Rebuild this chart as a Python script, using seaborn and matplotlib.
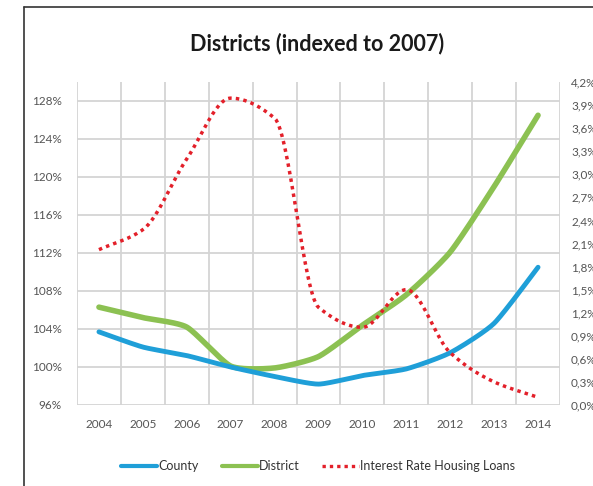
import numpy as np
import pandas as pd
import matplotlib
matplotlib.use("Agg")
import matplotlib.pyplot as plt
import seaborn as sns
from matplotlib.lines import Line2D
from matplotlib.ticker import FuncFormatter

years = ["2004", "2005", "2006", "2007", "2008", "2009", "2010", "2011", "2012", "2013", "2014"]
county = [103.7, 102.1, 101.2, 100.0, 99.0, 98.2, 99.1, 99.8, 101.5, 104.6, 110.5]
district = [106.3, 105.2, 104.2, 100.1, 99.9, 101.1, 104.4, 107.6, 112.1, 119.0, 126.5]
interest = [2.02, 2.28, 3.2, 3.99, 3.73, 1.27, 1.01, 1.50, 0.68, 0.30, 0.10]
left_ticks = [96, 100, 104, 108, 112, 116, 120, 124, 128]
right_ticks = [0.0, 0.3, 0.6, 0.9, 1.2, 1.5, 1.8, 2.1, 2.4, 2.7, 3.0, 3.3, 3.6, 3.9, 4.2]

sns.set_theme(style="white")
plt.rcParams['font.family'] = ['Lato', 'DejaVu Sans']


def smooth(xs, ys, k=0.13, n=30):
    """Bezier smoothing between points (similar to Excel's smoothed line)."""
    xs = np.asarray(xs, float)
    ys = np.asarray(ys, float)
    P = np.column_stack([xs, ys])
    P = np.vstack([P[0], P, P[-1]])
    out = []
    for i in range(1, len(P) - 2):
        p0, p1, p2, p3 = P[i - 1], P[i], P[i + 1], P[i + 2]
        c1 = p1 + (p2 - p0) * k
        c2 = p2 - (p3 - p1) * k
        t = np.linspace(0, 1, n, endpoint=(i == len(P) - 3))[:, None]
        seg = ((1 - t) ** 3) * p1 + 3 * ((1 - t) ** 2) * t * c1 + 3 * (1 - t) * t ** 2 * c2 + t ** 3 * p2
        out.append(seg)
    out = np.vstack(out)
    return out[:, 0], out[:, 1]


def pchip(xs, ys, n=30):
    """Monotone cubic (Fritsch-Carlson) smoothing without overshoot."""
    xs = np.asarray(xs, float)
    ys = np.asarray(ys, float)
    h = np.diff(xs)
    d = np.diff(ys) / h
    m = np.zeros_like(ys)
    for i in range(1, len(ys) - 1):
        if d[i - 1] * d[i] > 0:
            m[i] = 2.0 / (1.0 / d[i - 1] + 1.0 / d[i])
    m[0], m[-1] = d[0], d[-1]
    X, Y = [], []
    for i in range(len(xs) - 1):
        t = np.linspace(0, 1, n, endpoint=(i == len(xs) - 2))
        h00 = 2 * t ** 3 - 3 * t ** 2 + 1
        h10 = t ** 3 - 2 * t ** 2 + t
        h01 = -2 * t ** 3 + 3 * t ** 2
        h11 = t ** 3 - t ** 2
        X.append(xs[i] + t * h[i])
        Y.append(h00 * ys[i] + h10 * h[i] * m[i] + h01 * ys[i + 1] + h11 * h[i] * m[i + 1])
    return np.concatenate(X), np.concatenate(Y)


x = np.arange(len(years))
W, H = 593, 486
fig = plt.figure(figsize=(W / 100, H / 100), dpi=100)
ax = fig.add_axes([77 / W, 1 - 405 / H, (560 - 77) / W, (405 - 82) / H])
ax2 = ax.twinx()

grid_c = "#d4d4d4"
for b in np.arange(-0.5, len(years), 1.0):
    ax.axvline(b, color=grid_c, lw=1.3, zorder=0)
for t in left_ticks:
    ax.axhline(t, color=grid_c, lw=1.3, zorder=0)

cx, cy = smooth(x, county, k=0.1)
dx, dy = smooth(x, district, k=0.1)
ix, iy = pchip(x, interest)

sns.lineplot(x=cx, y=cy, ax=ax, color="#1f9fd8", lw=3.5, sort=False, estimator=None, zorder=3)
sns.lineplot(x=dx, y=dy, ax=ax, color="#8cc152", lw=4.0, sort=False, estimator=None, zorder=2)
sns.lineplot(x=ix, y=iy, ax=ax2, color="#e3202a", lw=2.5, sort=False, estimator=None,
             linestyle=(0, (1, 1.2)), zorder=4)

ax.set_xlim(-0.5, len(years) - 0.5)
ax.set_ylim(96, 130)
ax2.set_ylim(0, 4.2)
ax.set_xticks(x)
ax.set_xticklabels(years)
ax.set_yticks(left_ticks)
ax.yaxis.set_major_formatter(FuncFormatter(lambda v, p: f"{v:.0f}%"))
ax2.set_yticks(right_ticks)
ax2.yaxis.set_major_formatter(FuncFormatter(lambda v, p: f"{v:.1f}%".replace(".", ",")))

tc = "#555555"
ax.tick_params(axis="x", length=0, pad=10, labelsize=8.5, labelcolor=tc)
ax.tick_params(axis="y", length=0, pad=11, labelsize=8.5, labelcolor=tc)
ax2.tick_params(axis="y", length=0, pad=8, labelsize=8.5, labelcolor=tc)
for a in (ax, ax2):
    for s in a.spines.values():
        s.set_visible(False)
    a.set_xlabel("")
    a.set_ylabel("")
ax.set_facecolor("none")
ax2.set_facecolor("none")

fig.text(317 / W, 1 - 44 / H, "Districts (indexed to 2007)", ha="center", va="center",
         fontsize=15.5, fontweight="bold", color="#1a1a1a")

handles = [
    Line2D([], [], color="#1f9fd8", lw=3.0),
    Line2D([], [], color="#8cc152", lw=3.0),
    Line2D([], [], color="#e3202a", lw=2.4, linestyle=(0, (1, 1.2))),
]
fig.legend(handles, ["County", "District", "Interest Rate Housing Loans"],
           loc="center", bbox_to_anchor=(318 / W, 1 - 466 / H), ncol=3, frameon=False,
           fontsize=9, handlelength=2.9, handletextpad=0.1, columnspacing=1.8,
           labelcolor="#333333")

fig.add_artist(Line2D([24 / W, 24 / W], [0, 1 - 7 / H], color="#333333", lw=1.2))
fig.add_artist(Line2D([24 / W, 1], [1 - 7 / H, 1 - 7 / H], color="#333333", lw=1.2))

fig.savefig("out.png", dpi=100)
